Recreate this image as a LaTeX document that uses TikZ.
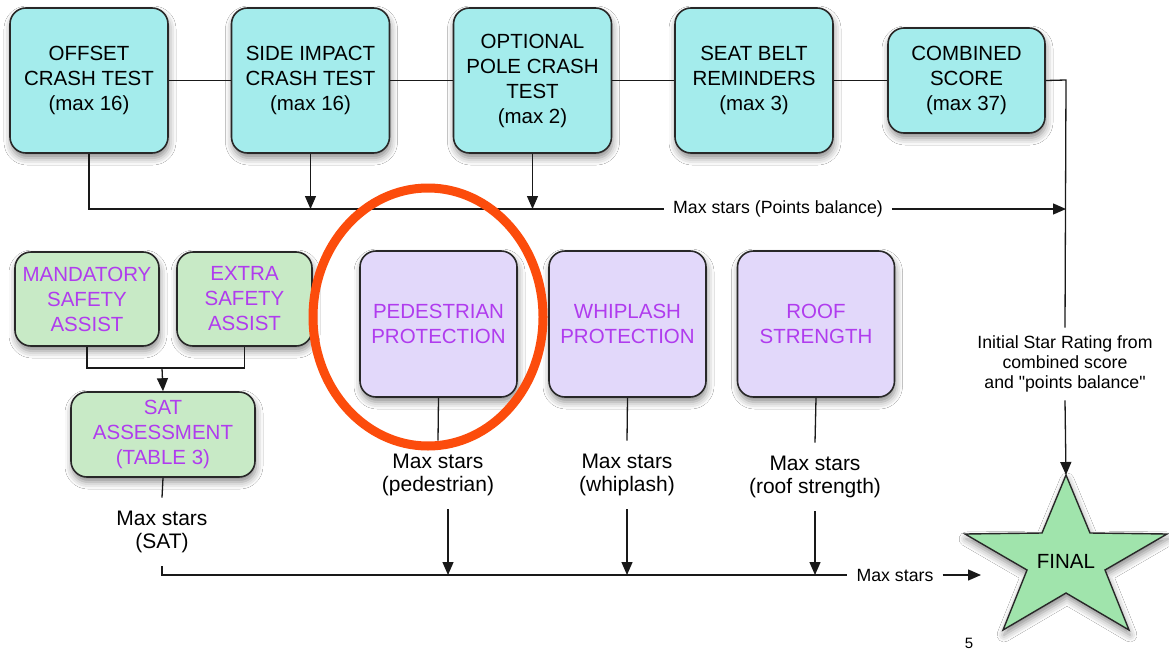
\documentclass[tikz,border=0pt]{standalone}
\usepackage{fontspec}
\setmainfont{Liberation Sans}[Ligatures=TeXOff]
\usetikzlibrary{arrows.meta,shadows.blur,calc}
\definecolor{cyanfill}{RGB}{164,236,236}
\definecolor{lavfill}{RGB}{226,216,250}
\definecolor{greenfill}{RGB}{200,234,198}
\definecolor{starfill}{RGB}{160,228,172}
\definecolor{purp}{RGB}{176,60,238}
\definecolor{ringred}{RGB}{252,76,12}
\definecolor{edgecol}{RGB}{40,40,40}
\newcommand{\boxfnt}{\fontsize{20.5}{25}\selectfont}
\newcommand{\labfnt}{\fontsize{21}{23.5}\selectfont}
\newcommand{\smfnt}{\fontsize{17.7}{20}\selectfont}
\begin{document}
\begin{tikzpicture}[x=1pt,y=-1pt,
  boxbase/.style={draw=edgecol, line width=1.6pt, rounded corners=16pt, align=center, inner sep=0pt,
    font=\boxfnt, blur shadow={shadow xshift=1pt, shadow yshift=-5pt, shadow blur radius=7pt, shadow opacity=45}},
  cbox/.style={boxbase, fill=cyanfill, text=black, minimum width=158pt, minimum height=145pt},
  gbox/.style={boxbase, fill=greenfill, text=purp},
  pbox/.style={boxbase, fill=lavfill, text=purp, minimum width=157pt, minimum height=146pt},
  lab/.style={font=\labfnt, align=center, inner xsep=4pt, inner ysep=13pt},
  slab/.style={font=\smfnt, align=center, inner xsep=9pt},
  conn/.style={draw=black!90, line width=1.3pt},
  arr/.style={conn, -{Triangle[length=13pt,width=11pt]}},
  ring/.style={draw=ringred, line width=9pt}
]
\useasboundingbox (0,0) rectangle (1169,653);
\fill[white] (0,0) rectangle (1169,653);

% top row
\node[cbox] (offset) at (89,80.5) {OFFSET\\CRASH TEST\\(max 16)};
\node[cbox] (side) at (310.5,80.5) {SIDE IMPACT\\CRASH TEST\\(max 16)};
\node[cbox] (pole) at (532.5,80.5) {OPTIONAL\\POLE CRASH\\TEST\\(max 2)};
\node[cbox] (belt) at (754,80.5) {SEAT BELT\\REMINDERS\\(max 3)};
\node[cbox, minimum width=157pt, minimum height=105pt] (comb) at (966.5,80.5) {COMBINED\\SCORE\\(max 37)};

\coordinate (cr) at (1066,80);
\node[slab] (pbal) at (778,209) {Max stars (Points balance)};
\node[font=\smfnt, align=center, inner ysep=8pt] (initl) at (1065,364) {Initial Star Rating from\\combined score\\and "points balance"};

% bottom row
\node[gbox, minimum width=144pt, minimum height=94pt] (mand) at (87,299) {MANDATORY\\SAFETY\\ASSIST};
\node[gbox, minimum width=135pt, minimum height=94pt] (extra) at (244.5,299) {EXTRA\\SAFETY\\ASSIST};
\coordinate (sj) at (162,368);
\node[gbox, minimum width=184pt, minimum height=85pt] (sat) at (163,434.5) {SAT\\ASSESSMENT\\(TABLE 3)};
\node[lab] (satl) at (162,532) {Max stars\\(SAT)};

\node[pbox] (ped) at (438.5,324) {PEDESTRIAN\\PROTECTION};
\node[pbox] (whip) at (627.5,324) {WHIPLASH\\PROTECTION};
\node[pbox] (roof) at (816,324) {ROOF\\STRENGTH};

\node[lab] (pedl) at (438,475) {Max stars\\(pedestrian)};
\node[lab] (whipl) at (627,475) {Max stars\\(whiplash)};
\node[lab] (roofl) at (815,477) {Max stars\\(roof strength)};
\node[slab] (ms) at (895,575) {Max stars};

% star
\path[fill=starfill, draw=edgecol, line width=1.4pt, line join=miter,
  blur shadow={shadow xshift=1pt, shadow yshift=-5pt, shadow blur radius=7pt, shadow opacity=45}]
  (1066,475) -- (1090,533) -- (1167,534) -- (1105,570) -- (1129,630) -- (1066,593)
  -- (1003,630) -- (1027,570) -- (965,534) -- (1042,533) -- cycle;
\node[font=\boxfnt] (final) at (1066,561) {FINAL};
\coordinate (fintop) at (1066,475);
\coordinate (finleft) at (981,575);

% connectors top
\draw[conn] (offset) -- (side);
\draw[conn] (side) -- (pole);
\draw[conn] (pole) -- (belt);
\draw[conn] (belt) -- (comb);
\draw[conn] (comb.east) -- (cr) -- (initl.north);
\draw[arr] (initl.south) -- (fintop);
\draw[conn] (offset.south) |- (pbal.west);
\draw[arr] (side.south) -- (side.south |- pbal.west);
\draw[arr] (pole.south) -- (pole.south |- pbal.west);
\draw[arr] (pbal.east) -- (pbal.east -| cr);

% connectors bottom
\draw[conn] (mand.south) |- (sj) -| (extra.south);
\draw[arr] (sj) -- (sat.north);
\draw[conn] (sat.south) -- (satl.north);
\draw[conn] (satl.south) |- (ms.west);
\draw[conn] (ped.south) -- (pedl.north);
\draw[conn] (whip.south) -- (whipl.north);
\draw[conn] (roof.south) -- (roofl.north);
\coordinate (pedin) at ([xshift=10pt]pedl.south);
\draw[arr] (pedin) -- (pedin |- ms.west);
\draw[arr] (whipl.south) -- (whipl.south |- ms.west);
\draw[arr] (roofl.south) -- (roofl.south |- ms.west);
\draw[arr] (ms.east) -- (finleft);

% highlight ring
\draw[ring] (428,317) ellipse [x radius=115pt, y radius=129pt];

\node[font=\fontsize{15}{18}\selectfont] (pnum) at (969,643) {5};
\end{tikzpicture}
\end{document}
